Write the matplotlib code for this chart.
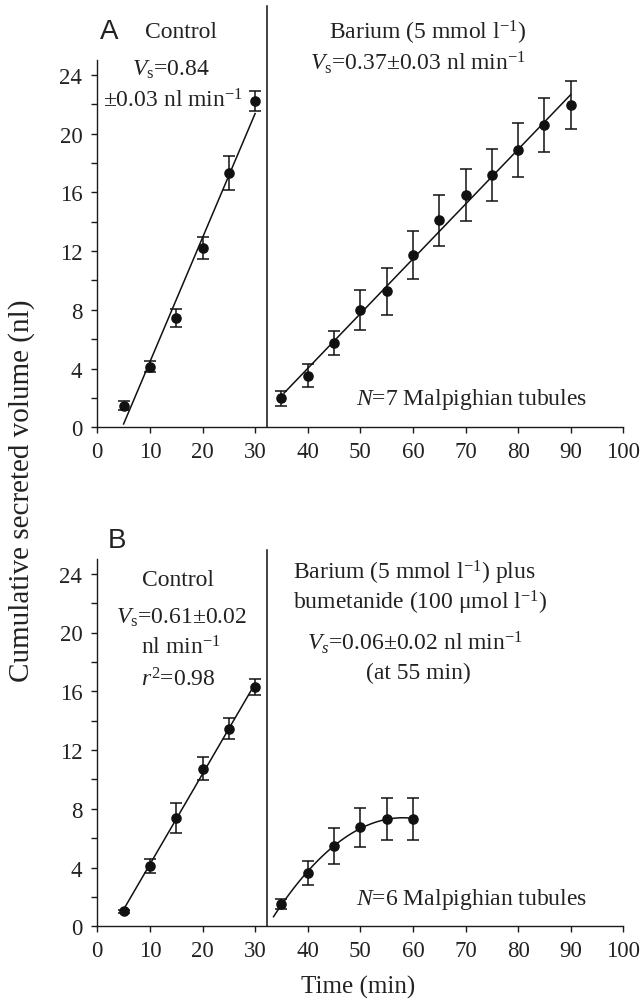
import numpy as np
import matplotlib
matplotlib.use("Agg")
import matplotlib.pyplot as plt
from matplotlib.ticker import MultipleLocator

plt.rcParams['font.family'] = ['Liberation Serif', 'DejaVu Serif']
plt.rcParams['mathtext.fontset'] = 'custom'
plt.rcParams['mathtext.rm'] = 'Liberation Serif'
plt.rcParams['mathtext.it'] = 'Liberation Serif:italic'
plt.rcParams['mathtext.bf'] = 'Liberation Serif:bold'

# ---- Data ----
a_ctrl_t = [5, 10, 15, 20, 25, 30]
a_ctrl_v = [1.47, 4.13, 7.45, 12.2, 17.3, 22.2]
a_ctrl_e = [0.3, 0.35, 0.6, 0.75, 1.15, 0.7]

a_ba_t = [35, 40, 45, 50, 55, 60, 65, 70, 75, 80, 85, 90]
a_ba_v = [1.98, 3.52, 5.75, 8.0, 9.25, 11.75, 14.08, 15.79, 17.18, 18.88, 20.59, 21.95]
a_ba_e = [0.51, 0.77, 0.83, 1.35, 1.59, 1.64, 1.74, 1.78, 1.76, 1.83, 1.86, 1.65]

b_ctrl_t = [5, 10, 15, 20, 25, 30]
b_ctrl_v = [1.02, 4.12, 7.38, 10.74, 13.46, 16.27]
b_ctrl_e = [0.1, 0.46, 1.02, 0.8, 0.7, 0.54]

b_bb_t = [35, 40, 45, 50, 55, 60]
b_bb_v = [1.52, 3.62, 5.46, 6.73, 7.31, 7.31]
b_bb_e = [0.36, 0.82, 1.2, 1.31, 1.44, 1.44]

x_ticks = [0, 10, 20, 30, 40, 50, 60, 70, 80, 90, 100]
y_ticks = [0, 4, 8, 12, 16, 20, 24]
divider_t = 32.3

W, H = 644, 1004
fig = plt.figure(figsize=(W / 100, H / 100), dpi=100)

FS_TICK = 16.5
FS = 17

def px(x, y):
    return x / W, 1 - y / H

def make_ax(bottom_px):
    left = 97.3 / W
    width = 526 / W
    yscale = 14.69
    top_px = bottom_px - 25 * yscale
    ax = fig.add_axes([left, 1 - bottom_px / H, width, (bottom_px - top_px) / H])
    ax.set_xlim(0, 100)
    ax.set_ylim(0, 25)
    ax.spines['top'].set_visible(False)
    ax.spines['right'].set_visible(False)
    for s in ['left', 'bottom']:
        ax.spines[s].set_linewidth(1.0)
        ax.spines[s].set_color('#1a1a1a')
    ax.set_xticks(x_ticks)
    ax.set_yticks(y_ticks)
    ax.yaxis.set_minor_locator(MultipleLocator(2))
    ax.tick_params(axis='both', which='both', direction='out', length=4.3, width=1.0,
                   color='#1a1a1a', labelsize=FS_TICK, labelcolor='#222222')
    ax.tick_params(axis='x', pad=5.5)
    ax.tick_params(axis='y', pad=6.5)
    ax.patch.set_alpha(0)
    return ax

def draw_points(ax, t, v, e):
    ax.errorbar(t, v, yerr=e, fmt='o', color='#111111', ms=6.6, elinewidth=1.1,
                capsize=4, capthick=1.1, zorder=3)

# Panel A
axA = make_ax(428.3)
draw_points(axA, a_ctrl_t, a_ctrl_v, a_ctrl_e)
draw_points(axA, a_ba_t, a_ba_v, a_ba_e)
p = np.polyfit(a_ctrl_t, a_ctrl_v, 1)
xx = np.array([5.0, 30.0])
axA.plot(xx, np.polyval(p, xx), color='#111111', lw=1.1)
p = np.polyfit(a_ba_t, a_ba_v, 1)
xx = np.array([35.5, 90.0])
axA.plot(xx, np.polyval(p, xx), color='#111111', lw=1.1)
axA.plot([divider_t, divider_t], [0, 28.7], color='#111111', lw=1.1, clip_on=False)

# Panel B
axB = make_ax(927.3)
draw_points(axB, b_ctrl_t, b_ctrl_v, b_ctrl_e)
draw_points(axB, b_bb_t, b_bb_v, b_bb_e)
p = np.polyfit(b_ctrl_t, b_ctrl_v, 1)
xx = np.array([5.0, 30.0])
axB.plot(xx, np.polyval(p, xx), color='#111111', lw=1.1)
p = np.polyfit(b_bb_t, b_bb_v, 2)
xx = np.linspace(33.5, 60, 100)
axB.plot(xx, np.polyval(p, xx), color='#111111', lw=1.1)
axB.plot([divider_t, divider_t], [0, 25.6], color='#111111', lw=1.1, clip_on=False)

# Texts
def t(x, y, s, ha='center', size=FS, **kw):
    fig.text(*px(x, y), s, ha=ha, va='center', fontsize=size, color='#222222', **kw)

t(109, 32, 'A', family='Liberation Sans', size=20)
t(181, 33, 'Control')
t(171, 70, r'$V_{\mathrm{s}}$=0.84')
t(173, 101, r'±0.03 nl min$^{-1}$')
t(428, 33, r'Barium (5 mmol l$^{-1}$)')
t(418, 63, r'$V_{\mathrm{s}}$=0.37±0.03 nl min$^{-1}$')
t(472, 400, r'$N$=7 Malpighian tubules')

t(117, 541, 'B', family='Liberation Sans', size=20)
t(178, 580, 'Control')
t(182, 618, r'$V_{\mathrm{s}}$=0.61±0.02')
t(181, 648, r'nl min$^{-1}$')
t(178, 680, r'$r^2$=0.98')
t(293, 573, r'Barium (5 mmol l$^{-1}$) plus', ha='left')
t(293, 603, r'bumetanide (100 μmol l$^{-1}$)', ha='left')
t(415, 643, r'$V_{s}$=0.06±0.02 nl min$^{-1}$')
t(418, 673, '(at 55 min)')
t(472, 900, r'$N$=6 Malpighian tubules')

fig.text(*px(22, 491), 'Cumulative secreted volume (nl)', rotation=90, ha='center',
         va='center', fontsize=21, color='#222222')
fig.text(*px(358, 987), 'Time (min)', ha='center', va='center', fontsize=18, color='#222222')

fig.savefig('out.png', dpi=100)
